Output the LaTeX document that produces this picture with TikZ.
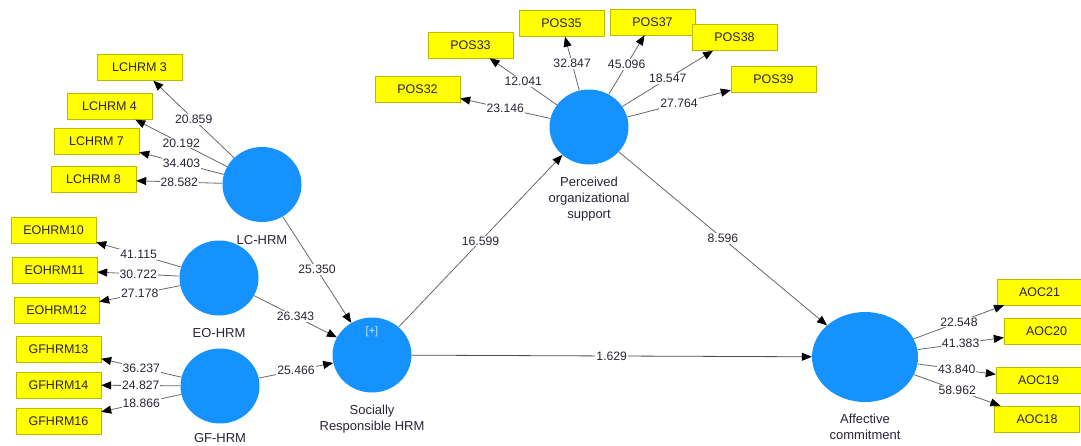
\documentclass[tikz,border=0pt]{standalone}
\usepackage{fontspec}
\setmainfont{Liberation Sans}
\definecolor{latentblue}{RGB}{22, 146, 255}
\definecolor{itemyellow}{RGB}{255, 255, 0}
\definecolor{itemedge}{RGB}{185, 185, 0}
\definecolor{pathgray}{RGB}{105, 105, 105}
\definecolor{inkdark}{RGB}{45, 35, 55}
\definecolor{pluslight}{RGB}{205, 225, 255}
\usetikzlibrary{shapes.geometric, arrows.meta, positioning}

\begin{document}
\begin{tikzpicture}[x=1pt, y=-1pt,
  latent/.style={ellipse, fill=latentblue, minimum width=79pt, minimum height=75pt, inner sep=0pt},
  item/.style={draw=itemedge, fill=itemyellow, minimum width=85pt, minimum height=26pt, inner sep=0pt, text=inkdark, font=\fontsize{12.5}{14}\selectfont},
  latname/.style={align=center, text=inkdark, inner sep=2pt, font=\fontsize{13}{16}\selectfont},
  load/.style={draw=pathgray, line width=0.8pt, -{Triangle[length=10pt, width=8pt, color=black]}},
  coef/.style={fill=white, text=inkdark, inner sep=1pt, font=\fontsize{12.2}{14}\selectfont}]
  \path[use as bounding box, fill=white] (0,0) rectangle (1081,445);

  % Constructs
  \node[latent] (lc) at (262,184.5) {};
  \node[latent] (eo) at (219,278) {};
  \node[latent] (gf) at (220,386) {};
  \node[latent] (sr) at (372,355) {};
  \node[latent] (pos) at (589,127) {};
  \node[latent, minimum width=106pt, minimum height=90pt] (ac) at (865,357) {};
  \node[text=pluslight, font=\fontsize{11}{13}\selectfont] (srplus) at (372,332) {[+]};

  \node[latname, below=11pt of lc] (lcname) {LC-HRM};
  \node[latname, below=11pt of eo] (eoname) {EO-HRM};
  \node[latname, below=8pt of gf] (gfname) {GF-HRM};
  \node[latname, below=10pt of sr] (srname) {Socially\\Responsible HRM};
  \node[latname, below=10pt of pos] (posname) {Perceived\\organizational\\support};
  \node[latname, below=10pt of ac] (acname) {Affective\\commitment};

  % Indicators
  \node[item] (lc3) at (139.5,67.5) {LCHRM 3};
  \node[item] (lc4) at (109.5,106.5) {LCHRM 4};
  \node[item] (lc7) at (96.5,141) {LCHRM 7};
  \node[item] (lc8) at (93.5,179.5) {LCHRM 8};
  \node[item] (eo10) at (53.5,230) {EOHRM10};
  \node[item] (eo11) at (54.5,270) {EOHRM11};
  \node[item] (eo12) at (56.5,310) {EOHRM12};
  \node[item] (gf13) at (58.5,349) {GFHRM13};
  \node[item] (gf14) at (58.5,385) {GFHRM14};
  \node[item] (gf16) at (58.5,421) {GFHRM16};
  \node[item] (pos32) at (417.5,89) {POS32};
  \node[item] (pos33) at (470.5,45) {POS33};
  \node[item] (pos35) at (561.5,23.5) {POS35};
  \node[item] (pos37) at (652.5,22) {POS37};
  \node[item] (pos38) at (734.5,37.5) {POS38};
  \node[item] (pos39) at (773.5,79) {POS39};
  \node[item] (aoc21) at (1039.5,292) {AOC21};
  \node[item] (aoc20) at (1046.5,331.5) {AOC20};
  \node[item] (aoc19) at (1038.5,380) {AOC19};
  \node[item] (aoc18) at (1037,419) {AOC18};

  % Outer loadings
  \draw[load] (lc) -- node[coef] {20.859} (lc3);
  \draw[load] (lc) -- node[coef] {20.192} (lc4);
  \draw[load] (lc) -- node[coef] {34.403} (lc7);
  \draw[load] (lc) -- node[coef] {28.582} (lc8);
  \draw[load] (eo) -- node[coef] {41.115} (eo10);
  \draw[load] (eo) -- node[coef] {30.722} (eo11);
  \draw[load] (eo) -- node[coef] {27.178} (eo12);
  \draw[load] (gf) -- node[coef] {36.237} (gf13);
  \draw[load] (gf) -- node[coef] {24.827} (gf14);
  \draw[load] (gf) -- node[coef] {18.866} (gf16);
  \draw[load] (pos) -- node[coef] {23.146} (pos32);
  \draw[load] (pos) -- node[coef] {12.041} (pos33);
  \draw[load] (pos) -- node[coef] {32.847} (pos35);
  \draw[load] (pos) -- node[coef] {45.096} (pos37);
  \draw[load] (pos) -- node[coef] {18.547} (pos38);
  \draw[load] (pos) -- node[coef] {27.764} (pos39);
  \draw[load] (ac) -- node[coef] {22.548} (aoc21);
  \draw[load] (ac) -- node[coef] {41.383} (aoc20);
  \draw[load] (ac) -- node[coef] {43.840} (aoc19);
  \draw[load] (ac) -- node[coef] {58.962} (aoc18);

  % Structural paths
  \draw[load] (lc) -- node[coef] {25.350} (sr);
  \draw[load] (eo) -- node[coef] {26.343} (sr);
  \draw[load] (gf) -- node[coef] {25.466} (sr);
  \draw[load] (sr) -- node[coef] {16.599} (pos);
  \draw[load] (pos) -- node[coef] {8.596} (ac);
  \draw[load, draw=black!70] (sr) -- node[coef] {1.629} (ac);
\end{tikzpicture}
\end{document}
